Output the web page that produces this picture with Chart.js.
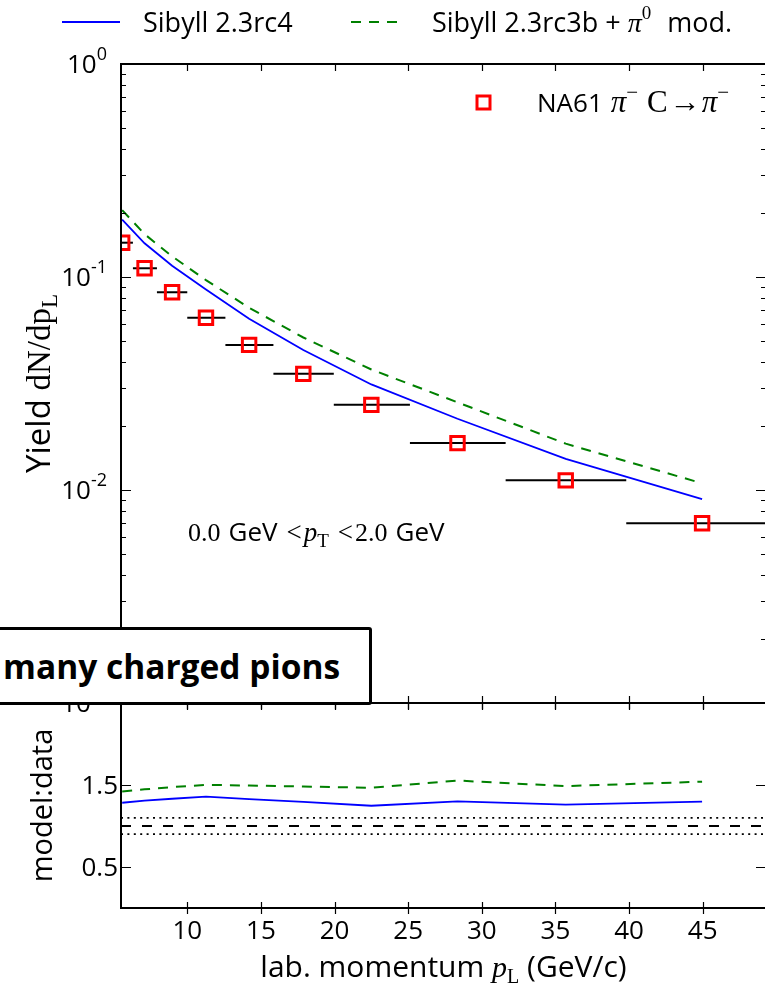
<!DOCTYPE html>
<html>
<head>
<meta charset="utf-8">
<script src="https://cdn.jsdelivr.net/npm/chart.js@4.4.1/dist/chart.umd.min.js"></script>
<style>
  html, body { margin: 0; padding: 0; background: #fff; }
  #wrap { position: relative; width: 765px; height: 990px; overflow: hidden; }
  #top { position: absolute; left: 0; top: 0; }
  #bottom { position: absolute; left: 0; top: 690px; }
  #tag {
    position: absolute; left: -14px; top: 627px; width: 386px; height: 78px;
    box-sizing: border-box; border: 3px solid #000; border-radius: 3px; background: #fff;
    font-family: "Open Sans", sans-serif; font-weight: 700; font-size: 33.5px;
    display: flex; align-items: center; padding-left: 14px; color: #000;
  }
</style>
</head>
<body>
<div id="wrap">
  <canvas id="top" width="790" height="720"></canvas>
  <canvas id="bottom" width="790" height="300"></canvas>
  <div id="tag">many charged pions</div>
</div>
<script>
// NA61 pi- C -> pi- yield vs. longitudinal momentum, 0 < pT < 2 GeV
const pCenters = [5.58, 7.10, 8.97, 11.27, 14.2, 17.88, 22.5, 28.35, 35.7, 44.96];
const binEdges = [5.01, 6.31, 7.94, 10.0, 12.59, 15.85, 19.95, 25.12, 31.62, 39.81, 50.12];
const na61Yield = [0.1449, 0.1099, 0.0848, 0.0644, 0.0480, 0.0351, 0.0251, 0.0166, 0.0111, 0.00698];
const sibyll23rc4 = [0.186, 0.144, 0.113, 0.0874, 0.0637, 0.0454, 0.0313, 0.0216, 0.0140, 0.00906];
const sibyll23rc3b = [0.206, 0.159, 0.125, 0.0967, 0.0717, 0.0520, 0.0368, 0.0258, 0.0165, 0.01075];

const xTicks = [10, 15, 20, 25, 30, 35, 40, 45];
const yDecades = [-3, -2, -1, 0];
const ratioTicks = [0.5, 1.5];
const refLevels = [1.0, 0.9, 1.1];

const X_MIN = 5.5, X_MAX = 49.3;
const SANS = '"Open Sans", sans-serif';
const SERIF = '"Liberation Serif", serif';
const BLUE = '#0000ff', GREEN = '#008000', RED = '#ff0000';

const ratioRc4 = sibyll23rc4.map((v, i) => v / na61Yield[i]);
const ratioRc3b = sibyll23rc3b.map((v, i) => v / na61Yield[i]);

const pts = (xs, ys) => xs.map((x, i) => ({ x: x, y: ys[i] }));

// draws a row of text pieces with their own fonts, offsets and leading gaps
function richText(ctx, x, y, runs, align) {
  let w = 0;
  runs.forEach(r => { ctx.font = r.font; r.w = ctx.measureText(r.text).width + (r.gap || 0); w += r.w; });
  let cx = align === 'right' ? x - w : align === 'center' ? x - w / 2 : x;
  ctx.textAlign = 'left';
  ctx.textBaseline = 'alphabetic';
  runs.forEach(r => { ctx.font = r.font; ctx.fillText(r.text, cx + (r.gap || 0), y + (r.dy || 0)); cx += r.w; });
  return w;
}

function frame(ctx, a) {
  ctx.save();
  ctx.strokeStyle = '#000';
  ctx.lineWidth = 2;
  ctx.strokeRect(a.left, a.top, a.right - a.left, a.bottom - a.top);
  ctx.restore();
}

function xTickMarks(ctx, chart, len) {
  const a = chart.chartArea, sx = chart.scales.x;
  ctx.save();
  ctx.strokeStyle = '#000';
  ctx.lineWidth = 1.2;
  xTicks.forEach(t => {
    const px = Math.round(sx.getPixelForValue(t)) + 0.5;
    ctx.beginPath();
    ctx.moveTo(px, a.bottom + len); ctx.lineTo(px, a.bottom - len);
    ctx.moveTo(px, a.top); ctx.lineTo(px, a.top + len);
    ctx.stroke();
  });
  ctx.restore();
}

function yTick(ctx, a, py, len) {
  ctx.beginPath();
  ctx.moveTo(a.left, py); ctx.lineTo(a.left + len, py);
  ctx.moveTo(a.right, py); ctx.lineTo(a.right - len, py);
  ctx.stroke();
}

const errorBars = {
  id: 'errorBars',
  beforeDatasetsDraw(chart) {
    const ctx = chart.ctx, a = chart.chartArea, sx = chart.scales.x, sy = chart.scales.y;
    ctx.save();
    ctx.beginPath();
    ctx.rect(a.left, a.top, a.right - a.left, a.bottom - a.top);
    ctx.clip();
    ctx.strokeStyle = '#000';
    ctx.lineWidth = 2;
    na61Yield.forEach((v, i) => {
      const py = sy.getPixelForValue(v);
      ctx.beginPath();
      ctx.moveTo(sx.getPixelForValue(binEdges[i]), py);
      ctx.lineTo(sx.getPixelForValue(binEdges[i + 1]), py);
      ctx.stroke();
    });
    ctx.restore();
  }
};

const topDecor = {
  id: 'topDecor',
  afterDraw(chart) {
    const ctx = chart.ctx, a = chart.chartArea, sy = chart.scales.y;
    frame(ctx, a);
    xTickMarks(ctx, chart, 7);

    ctx.save();
    ctx.strokeStyle = '#000';
    ctx.lineWidth = 1.2;
    yDecades.forEach(d => {
      yTick(ctx, a, Math.round(sy.getPixelForValue(Math.pow(10, d))) + 0.5, 10);
      if (d < 0) {
        for (let m = 2; m <= 9; m++) {
          yTick(ctx, a, Math.round(sy.getPixelForValue(m * Math.pow(10, d))) + 0.5, 5);
        }
      }
    });
    ctx.restore();

    ctx.fillStyle = '#000';
    yDecades.forEach(d => {
      const py = sy.getPixelForValue(Math.pow(10, d));
      richText(ctx, 107, py + 9, [
        { text: '10', font: '26px ' + SANS },
        { text: d === 0 ? '0' : '-' + (-d), font: '18px ' + SANS, dy: -13 }
      ], 'right');
    });

    // y title, centred on the panel
    ctx.save();
    ctx.translate(50, (a.top + a.bottom) / 2);
    ctx.rotate(-Math.PI / 2);
    richText(ctx, 0, 0, [
      { text: 'Yield ', font: '33px ' + SANS },
      { text: 'dN/dp', font: '33px ' + SERIF },
      { text: 'L', font: '23px ' + SERIF, dy: 7 }
    ], 'center');
    ctx.restore();

    // legend above the panel
    ctx.save();
    ctx.lineWidth = 2;
    ctx.strokeStyle = BLUE;
    ctx.beginPath(); ctx.moveTo(62, 22); ctx.lineTo(120, 22); ctx.stroke();
    ctx.strokeStyle = GREEN;
    ctx.setLineDash([10, 8]);
    ctx.beginPath(); ctx.moveTo(351, 22); ctx.lineTo(405, 22); ctx.stroke();
    ctx.restore();
    ctx.fillStyle = '#000';
    richText(ctx, 143, 32, [{ text: 'Sibyll 2.3rc4', font: '27px ' + SANS }], 'left');
    richText(ctx, 432, 32, [
      { text: 'Sibyll 2.3rc3b + ', font: '27px ' + SANS },
      { text: 'π', font: 'italic 28px ' + SERIF },
      { text: '0', font: '19px ' + SERIF, dy: -13 },
      { text: 'mod.', font: '27px ' + SANS, gap: 16 }
    ], 'left');

    // data legend inside the panel
    ctx.save();
    ctx.strokeStyle = RED;
    ctx.lineWidth = 3;
    ctx.strokeRect(477, 96, 13, 13);
    ctx.restore();
    richText(ctx, 537, 112, [
      { text: 'NA61', font: '26px ' + SANS },
      { text: 'π', font: 'italic 31px ' + SERIF, gap: 8 },
      { text: '−', font: '21px ' + SERIF, dy: -13 },
      { text: 'C', font: '31px ' + SERIF, gap: 9 },
      { text: '→', font: '31px ' + SERIF, gap: 2 },
      { text: 'π', font: 'italic 31px ' + SERIF, gap: 1 },
      { text: '−', font: '21px ' + SERIF, dy: -13 }
    ], 'left');

    // cut annotation
    richText(ctx, 188, 541, [
      { text: '0.0', font: '26px ' + SERIF },
      { text: 'GeV', font: '26px ' + SANS, gap: 8 },
      { text: '<', font: '27px ' + SERIF, gap: 9 },
      { text: 'p', font: 'italic 27px ' + SERIF, gap: 2 },
      { text: 'T', font: '19px ' + SERIF, dy: 6 },
      { text: '<', font: '27px ' + SERIF, gap: 9 },
      { text: '2.0', font: '26px ' + SERIF, gap: 2 },
      { text: 'GeV', font: '26px ' + SANS, gap: 8 }
    ], 'left');
  }
};

const bottomDecor = {
  id: 'bottomDecor',
  afterDraw(chart) {
    const ctx = chart.ctx, a = chart.chartArea, sx = chart.scales.x, sy = chart.scales.y;
    frame(ctx, a);
    xTickMarks(ctx, chart, 6);
    ctx.save();
    ctx.strokeStyle = '#000';
    ctx.lineWidth = 1.2;
    ratioTicks.forEach(t => yTick(ctx, a, Math.round(sy.getPixelForValue(t)) + 0.5, 10));
    ctx.restore();

    ctx.fillStyle = '#000';
    ratioTicks.forEach(t => {
      richText(ctx, 118, sy.getPixelForValue(t) + 9, [{ text: t.toFixed(1), font: '26px ' + SANS }], 'right');
    });
    xTicks.forEach(t => {
      richText(ctx, sx.getPixelForValue(t), 249, [{ text: String(t), font: '26px ' + SANS }], 'center');
    });
    richText(ctx, (a.left + a.right) / 2, 287, [
      { text: 'lab. momentum ', font: '30px ' + SANS },
      { text: 'p', font: 'italic 30px ' + SERIF },
      { text: 'L', font: '20px ' + SERIF, dy: 6 },
      { text: ' (GeV/c)', font: '30px ' + SANS }
    ], 'center');

    ctx.save();
    ctx.translate(52, (a.top + a.bottom) / 2);
    ctx.rotate(-Math.PI / 2);
    richText(ctx, 0, 0, [{ text: 'model:data', font: '29px ' + SANS }], 'center');
    ctx.restore();
  }
};

const baseOptions = (padding, yScale) => ({
  responsive: false,
  animation: false,
  layout: { padding: padding },
  plugins: { legend: { display: false }, tooltip: { enabled: false } },
  scales: {
    x: { type: 'linear', min: X_MIN, max: X_MAX, display: false },
    y: yScale
  }
});

new Chart(document.getElementById('top').getContext('2d'), {
  type: 'scatter',
  data: {
    datasets: [
      {
        label: 'Sibyll 2.3rc4', data: pts(pCenters, sibyll23rc4), showLine: true,
        borderColor: BLUE, borderWidth: 1.8, pointRadius: 0, fill: false
      },
      {
        label: 'Sibyll 2.3rc3b + pi0 mod.', data: pts(pCenters, sibyll23rc3b), showLine: true,
        borderColor: GREEN, borderWidth: 2, borderDash: [10, 8], pointRadius: 0, fill: false
      },
      {
        label: 'NA61', data: pts(pCenters, na61Yield), showLine: false, clip: 0,
        pointStyle: 'rect', pointRadius: 9.5, borderColor: RED, borderWidth: 3,
        backgroundColor: 'rgba(0,0,0,0)'
      }
    ]
  },
  options: baseOptions({ left: 121, right: 24, top: 64, bottom: 17 },
    { type: 'logarithmic', min: 1e-3, max: 1, display: false }),
  plugins: [errorBars, topDecor]
});

new Chart(document.getElementById('bottom').getContext('2d'), {
  type: 'scatter',
  data: {
    datasets: [
      {
        label: 'ratio 1', data: [{ x: X_MIN, y: refLevels[0] }, { x: X_MAX, y: refLevels[0] }], showLine: true,
        borderColor: '#000', borderWidth: 1.8, borderDash: [10, 11], pointRadius: 0
      },
      {
        label: 'ratio low', data: [{ x: X_MIN, y: refLevels[1] }, { x: X_MAX, y: refLevels[1] }], showLine: true,
        borderColor: '#000', borderWidth: 1.8, borderDash: [2, 4.4], pointRadius: 0
      },
      {
        label: 'ratio high', data: [{ x: X_MIN, y: refLevels[2] }, { x: X_MAX, y: refLevels[2] }], showLine: true,
        borderColor: '#000', borderWidth: 1.8, borderDash: [2, 4.4], pointRadius: 0
      },
      {
        label: 'Sibyll 2.3rc4', data: pts(pCenters, ratioRc4), showLine: true,
        borderColor: BLUE, borderWidth: 1.8, pointRadius: 0
      },
      {
        label: 'Sibyll 2.3rc3b', data: pts(pCenters, ratioRc3b), showLine: true,
        borderColor: GREEN, borderWidth: 2, borderDash: [10, 8], pointRadius: 0
      }
    ]
  },
  options: baseOptions({ left: 121, right: 24, top: 13, bottom: 82 },
    { type: 'linear', min: 0, max: 2.5, display: false }),
  plugins: [bottomDecor]
});
</script>
</body>
</html>
